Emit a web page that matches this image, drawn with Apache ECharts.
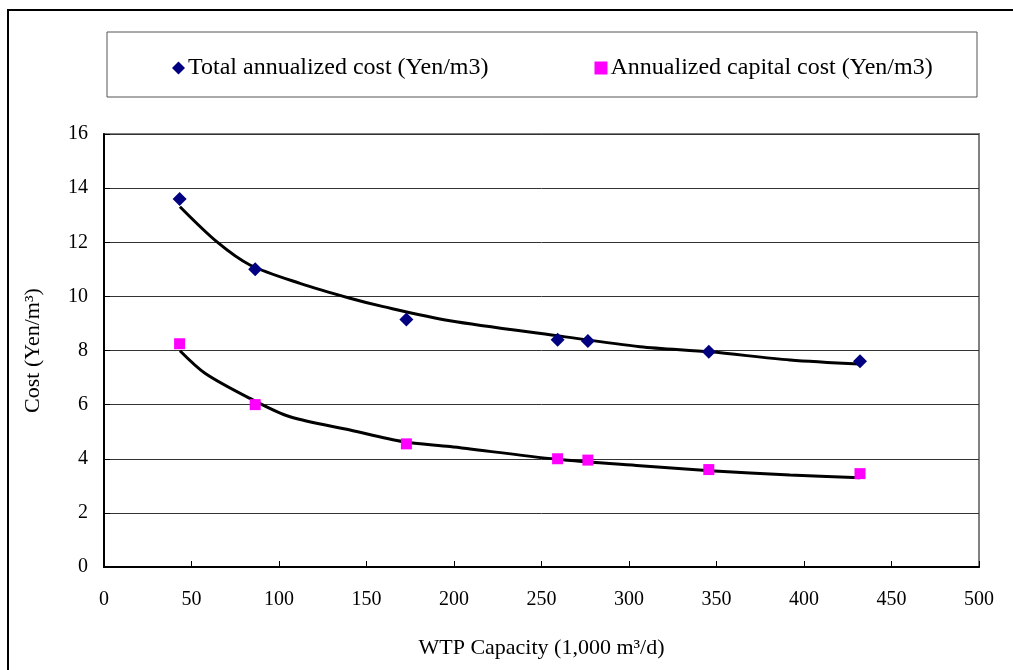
<!DOCTYPE html>
<html>
<head>
<meta charset="utf-8">
<script src="https://cdn.jsdelivr.net/npm/echarts@6/dist/echarts.min.js"></script>
<style>
  html, body { margin: 0; padding: 0; background: #fff; }
  #echart { width: 1013px; height: 670px; }
</style>
</head>
<body>
<div id="echart"></div>
<script>
// capacity of the plants (1,000 m3/d)
var capacity = [43.2, 86.4, 172.8, 259.2, 276.5, 345.6, 432];
// cost points
var totalCost = [13.6, 11.0, 9.15, 8.4, 8.35, 7.95, 7.6];
var capitalCost = [8.25, 6.0, 4.55, 4.0, 3.95, 3.6, 3.45];

// trend lines
var totalTrendX = [43.4, 64.4, 83.4, 112, 140.6, 159.6, 197.7, 258.7, 306.3, 346.3, 392, 432];
var totalTrendY = [13.31, 12.02, 11.16, 10.48, 9.93, 9.62, 9.10, 8.55, 8.14, 7.95, 7.65, 7.50];
var capTrendX = [43.4, 57.7, 83.4, 106.3, 140.6, 171, 197.7, 258.7, 306.3, 346.3, 392, 432];
var capTrendY = [7.99, 7.16, 6.23, 5.55, 5.06, 4.63, 4.45, 3.98, 3.74, 3.56, 3.40, 3.30];

var names = ['Total annualized cost (Yen/m3)', 'Annualized capital cost (Yen/m3)'];

function pairs(xs, ys) {
  return xs.map(function (x, i) { return [x, ys[i]]; });
}

var font = '"Liberation Serif", "Times New Roman", serif';
var myChart = echarts.init(document.getElementById('echart'));

myChart.setOption({
  animation: false,
  textStyle: { fontFamily: font, color: '#000' },
  graphic: [
    // outer frame
    { type: 'rect', shape: { x: 8, y: 10, width: 1100, height: 700 },
      style: { fill: 'none', stroke: '#000', lineWidth: 2 }, z: 0 },
    // legend box
    { type: 'rect', shape: { x: 107, y: 32, width: 870, height: 65 },
      style: { fill: 'none', stroke: '#555', lineWidth: 1 }, z: 0 }
  ],
  legend: {
    data: [
      { name: names[0], icon: 'diamond' },
      { name: names[1], icon: 'rect' }
    ],
    left: 167,
    top: 51,
    itemWidth: 13,
    itemHeight: 13,
    itemGap: 106,
    textStyle: { fontFamily: font, fontSize: 24, color: '#000', padding: [0, 0, 0, -2] }
  },
  grid: {
    left: 104, right: 34, top: 134, bottom: 103,
    show: true, borderColor: '#808080', borderWidth: 2
  },
  xAxis: {
    type: 'value',
    min: 0, max: 500, interval: 50,
    name: 'WTP Capacity (1,000 m³/d)',
    nameLocation: 'middle',
    nameGap: 70,
    nameTextStyle: { fontFamily: font, fontSize: 22, color: '#000' },
    axisLine: { lineStyle: { color: '#000', width: 2 } },
    axisTick: { inside: true, length: 6, lineStyle: { color: '#000' } },
    axisLabel: { fontFamily: font, fontSize: 20, color: '#000', margin: 23 },
    splitLine: { show: false }
  },
  yAxis: {
    type: 'value',
    min: 0, max: 16, interval: 2,
    name: 'Cost (Yen/m³)',
    nameLocation: 'middle',
    nameGap: 60,
    nameTextStyle: { fontFamily: font, fontSize: 22, color: '#000' },
    axisLine: { show: true, lineStyle: { color: '#000', width: 2 } },
    axisTick: { show: true, inside: true, length: 6, lineStyle: { color: '#000' } },
    axisLabel: { fontFamily: font, fontSize: 20, color: '#000', margin: 16 },
    splitLine: { lineStyle: { color: '#333', width: 1 } }
  },
  series: [
    {
      name: 'totalTrend', type: 'line', data: pairs(totalTrendX, totalTrendY),
      showSymbol: false, smooth: 0.3, silent: true,
      lineStyle: { color: '#000', width: 3 }, z: 2
    },
    {
      name: 'capTrend', type: 'line', data: pairs(capTrendX, capTrendY),
      showSymbol: false, smooth: 0.3, silent: true,
      lineStyle: { color: '#000', width: 3 }, z: 2
    },
    {
      name: names[0], type: 'scatter', data: pairs(capacity, totalCost),
      symbol: 'diamond', symbolSize: 14,
      itemStyle: { color: '#000080', opacity: 1 }, z: 3
    },
    {
      name: names[1], type: 'scatter', data: pairs(capacity, capitalCost),
      symbol: 'rect', symbolSize: 11,
      itemStyle: { color: '#ff00ff', opacity: 1 }, z: 3
    }
  ]
});
</script>
</body>
</html>
